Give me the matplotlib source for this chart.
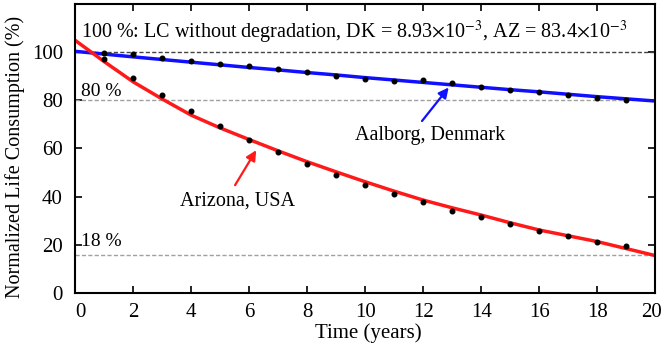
import numpy as np
import matplotlib
matplotlib.use("Agg")
import matplotlib.pyplot as plt
from matplotlib.transforms import ScaledTranslation

plt.rcParams["font.family"] = ["Liberation Serif", "DejaVu Serif"]
plt.rcParams["mathtext.fontset"] = "stix"

# fitted curves, read at each year
years = list(range(0, 21))
az_fit = [104.8, 96.0, 87.6, 80.5, 73.8, 68.5, 63.7, 59.0, 54.5, 50.3, 46.2,
          42.3, 38.6, 35.4, 32.4, 29.2, 26.2, 23.8, 21.4, 18.5, 15.6]
dk_fit = [100.3, 99.15, 98.0, 96.9, 95.8, 94.7, 93.6, 92.6, 91.5, 90.5, 89.4,
          88.4, 87.4, 86.4, 85.4, 84.4, 83.5, 82.5, 81.5, 80.6, 79.7]

# simulated points
pt_years = list(range(1, 20))
az_pts = [97.3, 89.2, 82.1, 75.5, 69.4, 63.7, 58.4, 53.5, 49.0, 45.0,
          41.1, 37.7, 34.2, 31.5, 28.6, 25.9, 23.8, 21.4, 19.7]
dk_pts = [99.7, 99.0, 97.5, 96.3, 95.2, 94.1, 92.8, 91.7, 90.2, 89.0,
          88.0, 88.3, 87.3, 85.5, 84.4, 83.4, 82.1, 81.0, 80.0]

ref_levels = [100, 80, 16]

fig = plt.figure(figsize=(6.61, 3.49), dpi=100)
ax = fig.add_axes([0.114, 0.16, 0.877, 0.829])

dash = (0, (3, 1.6))
ax.axhline(ref_levels[0], color="#444444", ls=dash, lw=1.0)
ax.axhline(ref_levels[1], color="#a0a0a0", ls=dash, lw=1.0)
ax.axhline(ref_levels[2], color="#a0a0a0", ls=dash, lw=1.0)

ax.plot(years, dk_fit, color="#1010ff", lw=2.5)
ax.plot(years, az_fit, color="#ff1a1a", lw=2.5)
ax.plot(pt_years, dk_pts, "o", color="black", ms=3.3)
ax.plot(pt_years, az_pts, "o", color="black", ms=3.3)

ax.text(0.2, 108, r"100 %: LC without degradation, DK = 8.93$\times$10$^{-3}$, AZ = 83.4$\times$10$^{-3}$",
        fontsize=14.5, va="center")
ax.text(0.2, 83.5, "80 %", fontsize=14, va="center")
ax.text(0.2, 21.5, "18 %", fontsize=14, va="center")

# arrows + labels
arrow_kw = dict(arrowstyle="-|>", lw=1.6, shrinkA=0, shrinkB=0, mutation_scale=15)
ax.annotate("", xy=(6.24, 59.3), xytext=(5.51, 44.8),
            arrowprops=dict(color="#ff1a1a", **arrow_kw))
ax.text(5.6, 38.2, "Arizona, USA", fontsize=14.5, ha="center", va="center")
ax.annotate("", xy=(12.88, 85.3), xytext=(11.96, 71.4),
            arrowprops=dict(color="#1010ff", **arrow_kw))
ax.text(12.25, 65.5, "Aalborg, Denmark", fontsize=14.5, ha="center", va="center")

ax.set_xlim(0, 20)
ax.set_ylim(0, 120)
ax.set_xticks(range(0, 21, 2))
ax.set_yticks(range(0, 101, 20))
ax.tick_params(direction="in", top=True, right=True, labelsize=15, length=5, width=1.2)
ax.tick_params(axis="y", pad=9)
ax.tick_params(axis="x", pad=7)
for s in ax.spines.values():
    s.set_linewidth(1.5)
xlabels = ax.get_xticklabels()
xlabels[0].set_transform(xlabels[0].get_transform() + ScaledTranslation(0.05, 0, fig.dpi_scale_trans))
xlabels[-1].set_transform(xlabels[-1].get_transform() + ScaledTranslation(-0.04, 0, fig.dpi_scale_trans))
ax.set_xlabel("Time (years)", fontsize=15)
ax.xaxis.set_label_coords(0.505, -0.105)
ax.set_ylabel("Normalized Life Consumption (%)", fontsize=14.5)
ax.yaxis.set_label_coords(-0.087, 0.47)

fig.savefig("out.png", dpi=100)
